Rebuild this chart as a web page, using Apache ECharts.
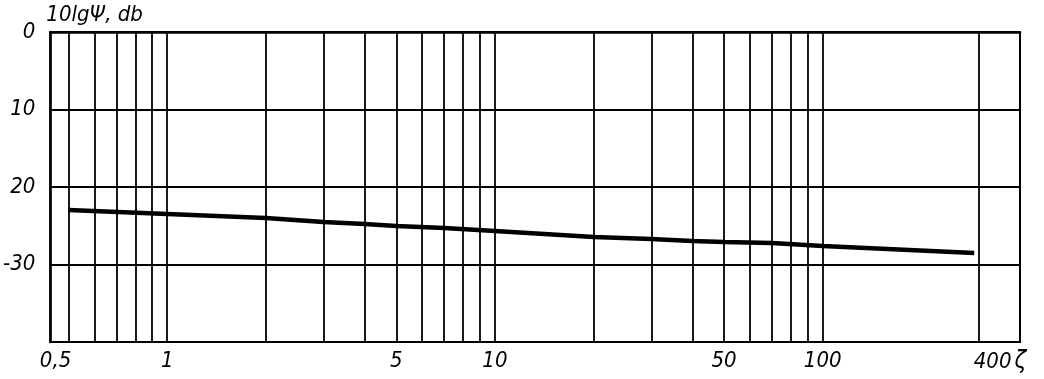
<!DOCTYPE html>
<html><head><meta charset="utf-8">
<script src="https://cdn.jsdelivr.net/npm/echarts@6/dist/echarts.min.js"></script>
<style>html,body{margin:0;padding:0;background:#fff}#c{width:1044px;height:379px}</style>
</head><body><div id="c"></div>
<script>
// curve: zeta (x) vs 10 lg Psi, dB (y)
const zeta = [0.5, 1, 2, 3, 4, 5, 7, 10, 20, 30, 40, 50, 70, 100, 290];
const level = [-22.97, -23.48, -24.0, -24.52, -24.77, -25.03, -25.29, -25.68, -26.45, -26.71, -26.97, -27.1, -27.23, -27.61, -28.52];
// vertical grid lines (log paper)
const gridX = [0.5, 0.6, 0.7, 0.8, 0.9, 1, 2, 3, 4, 5, 6, 7, 8, 9, 10, 20, 30, 40, 50, 60, 70, 80, 90, 100, 300, 400];
// x tick labels
const xLabelValues = [0.5, 1, 5, 10, 50, 100, 400];
const xLabelTexts = ['0,5', '1', '5', '10', '50', '100', '400'];
const xName = 'ζ';
// y tick labels
const yTickValues = [0, -10, -20, -30, -40];
const yTickTexts = ['0', '10', '20', '-30', ''];
const yName = '10lgΨ, db';

const FONT = "'Liberation Sans Narrow', 'DejaVu Sans Condensed', sans-serif";

function findIdx(arr, v) {
  for (let i = 0; i < arr.length; i++) {
    if (Math.abs(arr[i] - v) <= Math.abs(arr[i]) * 1e-6 + 1e-9) return i;
  }
  return -1;
}

const chart = echarts.init(document.getElementById('c'), null, {renderer: 'canvas'});
chart.setOption({
  animation: false,
  backgroundColor: '#fff',
  grid: {left: 50, right: 24, top: 32, bottom: 37, show: true, borderColor: '#000', borderWidth: 2, backgroundColor: 'transparent'},
  xAxis: {
    type: 'log', min: 0.44, max: 400,
    axisLine: {show: true, lineStyle: {color: '#000', width: 2.5}},
    axisTick: {show: false, customValues: gridX},
    splitLine: {show: true, lineStyle: {color: '#000', width: 1.8}},
    axisLabel: {
      customValues: xLabelValues,
      margin: 8,
      fontFamily: FONT, fontStyle: 'italic', fontSize: 22, color: '#000',
      formatter: function (v) {
        const i = findIdx(xLabelValues, v);
        if (i < 0) return '';
        if (i === 0) return '{l|' + xLabelTexts[i] + '}';
        if (i === xLabelValues.length - 1) return '{r|' + xLabelTexts[i] + '}{z|' + xName + '}';
        return xLabelTexts[i];
      },
      rich: {
        l: {fontFamily: FONT, fontStyle: 'italic', fontSize: 22, color: '#000', padding: [0, 26, 0, 0]},
        r: {fontFamily: FONT, fontStyle: 'italic', fontSize: 22, color: '#000', padding: [0, 3, 0, 0]},
        z: {fontFamily: FONT, fontStyle: 'italic', fontSize: 24, color: '#000', padding: [0, 40, 0, 0]}
      }
    }
  },
  yAxis: {
    type: 'value', min: -40, max: 0, interval: 10,
    name: yName, nameLocation: 'end', nameGap: 6,
    nameTextStyle: {fontFamily: FONT, fontStyle: 'italic', fontSize: 22, color: '#000', align: 'left', verticalAlign: 'bottom', padding: [0, 0, 0, -4]},
    axisLine: {show: true, lineStyle: {color: '#000', width: 2.5}},
    axisTick: {show: false},
    splitLine: {show: true, lineStyle: {color: '#000', width: 1.8}},
    axisLabel: {
      margin: 15, fontFamily: FONT, fontStyle: 'italic', fontSize: 22, color: '#000',
      formatter: function (v) {
        const i = findIdx(yTickValues, v);
        return i < 0 ? '' : yTickTexts[i];
      }
    }
  },
  series: [{
    type: 'line',
    data: zeta.map((z, i) => [z, level[i]]),
    showSymbol: false,
    lineStyle: {color: '#000', width: 4.5},
    itemStyle: {color: '#000'}
  }]
});
</script>
</body></html>
